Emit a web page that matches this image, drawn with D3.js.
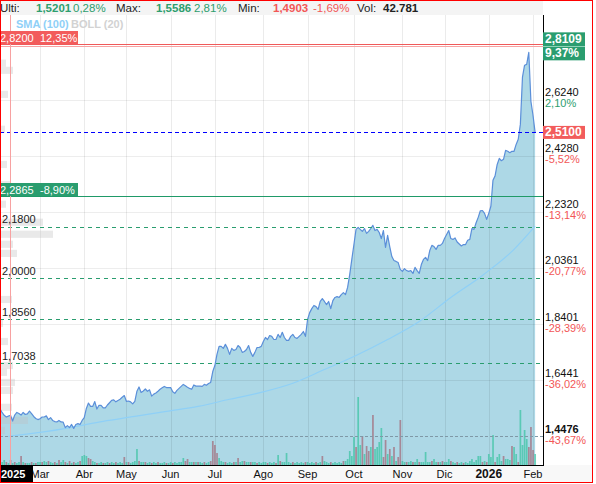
<!DOCTYPE html>
<html><head><meta charset="utf-8">
<script src="https://cdn.jsdelivr.net/npm/d3@7"></script>
<style>body{margin:0;background:#fff}svg{display:block;font-family:"Liberation Sans",Arial,sans-serif}</style>
</head><body><svg id="c" width="596" height="484"></svg>
<script>
// ---------- DATA ----------
const closes = [
1.549,1.544,1.531,1.521,1.515,1.518,1.521,1.501,1.522,1.531,
1.527,1.522,1.531,1.524,1.526,1.536,1.527,1.517,1.510,1.506,
1.509,1.515,1.515,1.519,1.506,1.513,1.503,1.499,1.498,1.503,
1.498,1.497,1.478,1.485,1.478,1.489,1.475,1.489,1.492,1.489,
1.503,1.513,1.545,1.564,1.552,1.552,1.569,1.543,1.556,1.556,
1.547,1.547,1.557,1.565,1.573,1.575,1.568,1.573,1.577,1.584,
1.590,1.570,1.571,1.568,1.561,1.570,1.605,1.620,1.601,1.606,
1.613,1.605,1.610,1.588,1.595,1.599,1.605,1.612,1.617,1.622,
1.618,1.618,1.618,1.603,1.598,1.608,1.615,1.622,1.629,1.624,
1.619,1.615,1.612,1.627,1.623,1.623,1.623,1.622,1.629,1.626,
1.632,1.636,1.674,1.695,1.734,1.762,1.762,1.755,1.769,1.755,
1.734,1.755,1.748,1.751,1.765,1.758,1.741,1.744,1.751,1.765,
1.741,1.727,1.741,1.758,1.758,1.762,1.779,1.793,1.786,1.800,
1.797,1.786,1.786,1.804,1.793,1.811,1.793,1.783,1.783,1.797,
1.804,1.793,1.790,1.797,1.804,1.814,1.797,1.856,1.880,1.894,
1.905,1.901,1.891,1.919,1.929,1.919,1.908,1.919,1.894,1.922,
1.933,1.936,1.933,1.943,1.950,1.943,1.968,2.013,2.066,2.118,
2.171,2.178,2.171,2.164,2.174,2.157,2.164,2.174,2.185,2.167,
2.171,2.160,2.139,2.167,2.108,2.150,2.111,2.076,2.062,2.059,
2.055,2.031,2.024,2.034,2.027,2.024,2.027,2.017,2.038,2.027,
2.017,2.048,2.066,2.073,2.062,2.097,2.115,2.111,2.101,2.115,
2.115,2.122,2.139,2.153,2.167,2.139,2.136,2.141,2.127,2.120,
2.113,2.118,2.118,2.133,2.136,2.174,2.171,2.194,2.213,2.236,
2.237,2.227,2.206,2.227,2.252,2.343,2.358,2.398,2.419,2.411,
2.416,2.447,2.444,2.439,2.444,2.444,2.468,2.486,2.538,2.703,
2.745,2.748,2.790,2.619,2.570,2.510];

const volume = [
80,160,60,100,60,40,100,40,60,40,
60,180,60,40,40,40,60,40,40,60,
60,60,80,60,80,60,40,60,40,100,
60,100,60,40,80,40,60,40,60,80,
180,200,180,140,120,80,60,40,40,60,
40,40,60,40,60,40,60,40,60,40,
160,60,60,40,60,80,320,80,60,60,
60,40,60,40,60,40,60,40,40,60,
40,40,60,40,60,40,60,60,140,80,
120,60,60,60,60,60,60,40,60,40,
60,80,480,400,240,140,80,60,60,40,
60,40,60,60,140,60,80,80,60,60,
60,60,60,40,60,40,60,60,40,60,
40,60,40,200,80,60,60,240,60,40,
60,40,60,40,60,40,60,60,40,60,
40,60,40,60,180,80,60,40,60,40,
60,40,60,40,80,80,120,280,180,560,
360,1360,400,580,220,380,280,360,1000,320,
360,460,740,160,500,220,320,180,360,80,
160,900,80,60,60,60,80,60,60,120,
60,60,60,260,60,60,80,120,60,60,
60,80,60,60,120,80,60,40,60,40,
60,40,60,40,80,120,60,100,180,180,
60,80,60,220,160,600,60,160,220,80,
180,120,120,100,380,360,220,60,1100,400,
700,520,360,760,300,220];

// c = compra (teal), v = venta (mauve)
const volSide = ["vvccvcvcvc","cvcvccvcvc","cvccvccvcv","ccvcvcvccv","cccvvccvcc",
"vccvccvccc","vcvccccvcc","vccvccvccc","vccvcccccv","vccvcvccvc","cvvvvcccvc",
"ccvcvccvcc","vccvccccvc","ccvcvccccc","vcccccvccc","cvccvcccvc","ccccvccccc",
"vccvcvvcvc","cccvvcvcvc","vvccvccvcc","vcccccvccv","cvcccvccvc","cvcccccccc",
"vcvcccvccc","vcccvccvcc","ccvvvc"].join("").split("");

// SMA(100): trading-day index and value
const smaIdx = [5,20,35,50,65,80,95,110,125,140,155,170,185,200,215,230,245,255];
const smaVal = [1.447,1.461,1.479,1.500,1.517,1.535,1.552,1.577,1.601,1.633,1.681,1.730,1.786,1.849,1.933,2.010,2.101,2.182];

const holidays = ["2025-04-18","2025-04-21","2025-05-01","2025-12-25","2025-12-26","2026-01-01"];
const monthLabels = ["Mar","Abr","May","Jun","Jul","Ago","Sep","Oct","Nov","Dic","2026","Feb"];

const axisTicks = [2.6240,2.4280,2.2320,2.0361,1.8401,1.6441,1.4476];
const axisTickText = ["2,6240","2,4280","2,2320","2,0361","1,8401","1,6441","1,4476"];
const axisPct = ["2,10%","-5,52%","-13,14%","-20,77%","-28,39%","-36,02%","-43,67%"];

const dashedLevels = [2.18, 2.0, 1.856, 1.7038];
const dashedLevelText = ["2,1800","2,0000","1,8560","1,7038"];
const resistance = 2.82, resistanceText = ["2,8200","12,35%"];
const support = 2.2865, supportText = ["2,2865","-8,90%"];
const maxPrice = 2.8109, maxText = ["2,8109","9,37%"];
const lastPrice = 2.51, lastText = "2,5100";
const minLine = 1.4476;

const profilePrice = [2.752,2.727,2.643,2.521,2.398,2.328,2.259,2.196,2.154,2.119,2.087,1.926,1.842,1.779,1.695,1.671,1.636,1.608,1.549,1.503,1.468];
const profileVol =   [600,1300,800,500,700,1000,600,4300,5300,1300,1700,1200,300,800,1300,700,1500,1300,1200,2800,500];

const header = [
  ["Ulti:", "#222", 400], ["1,5201", "#2e9e6e", 700], ["0,28%", "#2e9e6e", 400],
  ["Max:", "#222", 400], ["1,5586", "#2e9e6e", 700], ["2,81%", "#2e9e6e", 400],
  ["Min:", "#222", 400], ["1,4903", "#f25757", 700], ["-1,69%", "#f25757", 400],
  ["Vol:", "#222", 400], ["42.781", "#222", 700]];
const headerX = [0,36,73,116,156,194,238,273,313,357,383];

// ---------- LAYOUT ----------
const L = 0, R = 543, T = 15, B = 465;
const GREEN = "#2a9d6f", RED = "#f25c5c", PRED = "#f25757";

// trading days
const hol = new Set(holidays);
const days = [];
for (let d = new Date(Date.UTC(2025,1,3)); d <= new Date(Date.UTC(2026,1,3)); d.setUTCDate(d.getUTCDate()+1)) {
  const wd = d.getUTCDay(), s = d.toISOString().slice(0,10);
  if (wd !== 0 && wd !== 6 && !hol.has(s)) days.push(new Date(d));
}
const monthStarts = [];
days.forEach((d,i)=>{ if (i>0 && d.getUTCMonth() !== days[i-1].getUTCMonth()) monthStarts.push(i); });

const xs = d3.scaleLinear().domain([20, 254]).range([40, 533]);
const ys = d3.scaleLinear().domain([2.624, 1.4476]).range([99.8, 436.3]);
const vy = d3.scaleLinear().domain([0, 1500]).range([B, 390]);
const px = d3.scaleLinear().domain([0, 6000]).range([0, 60]);

const svg = d3.select("#c");
svg.append("rect").attr("width",596).attr("height",484).attr("fill","#fff");
svg.append("defs").append("clipPath").attr("id","clip")
  .append("rect").attr("x",L).attr("y",T).attr("width",R-L).attr("height",B-T);

// header
svg.append("rect").attr("x",0).attr("y",0).attr("width",R).attr("height",T).attr("fill","#f4f4f4");
svg.append("g").selectAll("text").data(header).join("text")
  .attr("x",(d,i)=>headerX[i]).attr("y",12).attr("font-size",11.5)
  .attr("fill",d=>d[1]).attr("font-weight",d=>d[2]).text(d=>d[0]);

// x-axis band
svg.append("rect").attr("x",0).attr("y",B).attr("width",593).attr("height",18).attr("fill","#f8f8f8");

const g = svg.append("g").attr("clip-path","url(#clip)");

// area
g.append("path").datum(closes)
  .attr("d", d3.area().x((d,i)=>xs(i)).y0(B).y1(d=>ys(d)))
  .attr("fill","#add8e6");

// grid
g.append("g").selectAll("line").data(monthStarts).join("line")
  .attr("x1",d=>Math.round(xs(d))+0.5).attr("x2",d=>Math.round(xs(d))+0.5).attr("y1",T).attr("y2",B)
  .attr("stroke","#000").attr("stroke-opacity",0.08);
g.append("g").selectAll("line").data(axisTicks.slice(0,6)).join("line")
  .attr("x1",L).attr("x2",R).attr("y1",d=>Math.round(ys(d))+0.5).attr("y2",d=>Math.round(ys(d))+0.5)
  .attr("stroke","#000").attr("stroke-opacity",0.07);

// volume
g.append("g").selectAll("rect").data(volume).join("rect")
  .attr("x",(d,i)=>xs(i)-0.8).attr("width",1.7)
  .attr("y",d=>vy(d)).attr("height",d=>B-vy(d))
  .attr("fill",(d,i)=>volSide[i]==="c" ? "#3fc4a4" : "#a57a88")
  .attr("fill-opacity",(d,i)=>volSide[i]==="c" ? 0.75 : 0.85);

// volume profile
const binH = ys(0) - ys(0.025);
g.append("g").selectAll("rect").data(profilePrice).join("rect")
  .attr("x",L).attr("y",d=>ys(d)-binH/2).attr("height",binH)
  .attr("width",(d,i)=>px(profileVol[i]))
  .attr("fill","#bfbfbf").attr("fill-opacity",0.35);

// SMA
g.append("path").datum(smaIdx)
  .attr("d", d3.line().x(d=>xs(d)).y((d,i)=>ys(smaVal[i])).curve(d3.curveMonotoneX))
  .attr("fill","none").attr("stroke","#8fd0f7").attr("stroke-width",1.2);

// price line
g.append("path").datum(closes)
  .attr("d", d3.line().x((d,i)=>xs(i)).y(d=>ys(d)))
  .attr("fill","none").attr("stroke","#5b8fd9").attr("stroke-width",1.2).attr("stroke-linejoin","round");

// level lines (1px rects; dashed ones as repeated segments)
const levels = svg.append("g");
function hline(v, color, dash, gap){
  const y = Math.round(ys(v));
  if (!dash) {
    levels.append("rect").attr("x",L).attr("y",y).attr("width",R-L).attr("height",1).attr("fill",color);
  } else {
    const segs = d3.range(L, R, dash + gap);
    levels.append("g").selectAll("rect").data(segs).join("rect")
      .attr("x",d=>d).attr("y",y).attr("width",d=>Math.min(dash, R-d)).attr("height",1).attr("fill",color);
  }
}
hline(minLine, "#7f98a6", 3, 2);
dashedLevels.forEach(v=>hline(v, GREEN, 4, 4));
hline(support, "#1f9a68");
hline(lastPrice, "#0000ff", 4, 3);
hline(maxPrice, "#f7a3a3");
hline(resistance, "#f05a5a");

// pink vertical marker
svg.append("rect").attr("x",10).attr("y",T).attr("width",1).attr("height",B-T).attr("fill","#f7a1a1");

// dashed level labels
svg.append("g").selectAll("text").data(dashedLevels).join("text")
  .attr("x",2).attr("y",d=>ys(d)-3.5).attr("font-size",11).attr("fill","#222")
  .text((d,i)=>dashedLevelText[i]);

// resistance / support tags (left)
function leftTag(v, txt, color){
  const yb = Math.round(ys(v));
  svg.append("rect").attr("x",0).attr("y",yb-13).attr("width",78).attr("height",13).attr("fill",color);
  svg.append("text").attr("x",0).attr("y",yb-2.5).attr("font-size",11).attr("fill","#fff").text(txt[0]);
  svg.append("text").attr("x",40).attr("y",yb-2.5).attr("font-size",11).attr("fill","#fff").text(txt[1]);
}
leftTag(resistance, resistanceText, RED);
leftTag(support, supportText, GREEN);

// legend
svg.append("text").attr("x",16).attr("y",28).attr("font-size",11).attr("font-weight",700)
  .attr("fill","#8fd0f7").text("SMA (100)");
svg.append("text").attr("x",71).attr("y",28).attr("font-size",11).attr("font-weight",700)
  .attr("fill","#d2d2d2").text("BOLL (20)");

// axes lines
svg.append("rect").attr("x",L).attr("y",B).attr("width",R-L+1).attr("height",1).attr("fill","#000");
svg.append("rect").attr("x",R).attr("y",T).attr("width",1).attr("height",B-T).attr("fill","#000");

// right axis labels
const ra = svg.append("g").selectAll("g").data(axisTicks).join("g");
ra.append("text").attr("x",545).attr("y",d=>ys(d)-3.5).attr("font-size",11)
  .attr("font-weight",(d,i)=>i===axisTicks.length-1?700:400).attr("fill","#111")
  .text((d,i)=>axisTickText[i]);
ra.append("text").attr("x",545).attr("y",d=>ys(d)+7.5).attr("font-size",11)
  .attr("fill",(d,i)=>axisPct[i].startsWith("-")?PRED:"#2e9e6e").text((d,i)=>axisPct[i]);

// right price tags
const my = ys(maxPrice);
svg.append("rect").attr("x",543).attr("y",my-14).attr("width",42).attr("height",28).attr("fill",GREEN);
svg.append("rect").attr("x",543).attr("y",Math.round(my)).attr("width",42).attr("height",1).attr("fill","#8fd3b8");
svg.append("text").attr("x",545).attr("y",my-3.5).attr("font-size",12).attr("font-weight",700).attr("fill","#fff").text(maxText[0]);
svg.append("text").attr("x",545).attr("y",my+11).attr("font-size",12).attr("font-weight",700).attr("fill","#fff").text(maxText[1]);
const ly = ys(lastPrice);
svg.append("rect").attr("x",543).attr("y",ly-6.5).attr("width",42).attr("height",13).attr("fill",RED);
svg.append("text").attr("x",545).attr("y",ly+4).attr("font-size",12).attr("font-weight",700).attr("fill","#fff").text(lastText);

// x-axis labels
svg.append("g").selectAll("text").data(monthStarts).join("text")
  .attr("x",d=>xs(d)).attr("y",478).attr("text-anchor","middle")
  .attr("font-size",(d,i)=>monthLabels[i]==="2026"?12:11)
  .attr("font-weight",(d,i)=>monthLabels[i]==="2026"?700:400)
  .attr("fill","#111").text((d,i)=>monthLabels[i]);
svg.append("rect").attr("x",0).attr("y",466).attr("width",33).attr("height",16).attr("fill","#000");
svg.append("text").attr("x",1).attr("y",478).attr("font-size",11)
  .attr("font-weight",700).attr("fill","#fff").text("2025");

// outer border
svg.append("rect").attr("x",0.5).attr("y",0.5).attr("width",592).attr("height",482)
  .attr("fill","none").attr("stroke","#f00");
</script></body></html>
